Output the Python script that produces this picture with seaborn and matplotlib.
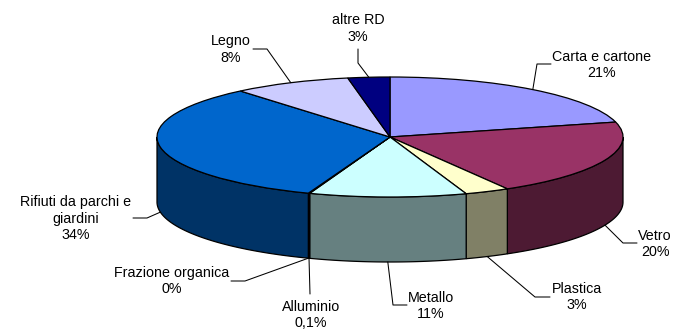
import numpy as np
import pandas as pd
import matplotlib
matplotlib.use("Agg")
import matplotlib.pyplot as plt
import seaborn as sns
from matplotlib.colors import to_rgb
from matplotlib.transforms import Affine2D

# slices, clockwise from the top
categories = ["Carta e cartone", "Vetro", "Plastica", "Metallo", "Alluminio",
              "Frazione organica", "Rifiuti da parchi e\ngiardini", "Legno", "altre RD"]
shown = ["21%", "20%", "3%", "11%", "0,1%", "0%", "34%", "8%", "3%"]
values = [21.0, 20.6, 3.1, 10.9, 0.1, 0.0, 33.2, 8.2, 2.9]
top_colors = ["#9999FF", "#993366", "#FFFFCC", "#CCFFFF", "#660066",
              "#FF8080", "#0066CC", "#CCCCFF", "#000080"]

# layout, in image pixels
W, H = 673, 330
CX, CY, RX, RY, DEPTH = 390, 137, 233, 60, 65
# per slice: elbow points of the leader, then label centre
leaders = [[(537, 64), (551, 64)], [(623, 243), (637, 243)], [(535, 297), (550, 297)],
           [(393, 305), (407, 305)], [(310, 294)], [(245, 281), (231, 281)],
           [(147, 218), (133, 218)], [(267, 49), (253, 49)], [(358, 63), (358, 49)]]
label_pos = [(602, 65), (655, 244), (577, 297), (431, 306), (311, 315),
             (172, 281), (76, 218.5), (231, 49.5), (358, 28.5)]

sns.set_theme(style="white")
plt.rcParams["font.family"] = ["Liberation Sans", "DejaVu Sans"]

df = pd.DataFrame({"cat": categories, "val": values, "color": top_colors, "shown": shown})
total = df["val"].sum()
ends = df["val"].cumsum() / total * 360
starts = ends - df["val"] / total * 360

fig = plt.figure(figsize=(W / 100, H / 100), dpi=100)
ax = fig.add_axes([0, 0, 1, 1])

# top face
wedges, _ = ax.pie(df["val"], colors=df["color"], startangle=90, counterclock=False, normalize=True,
                   wedgeprops={"edgecolor": "black", "linewidth": 0.9})
for w in wedges:
    w.set_zorder(3)
ax.set_aspect("auto")
ax.set_xlim(-CX / RX, (W - CX) / RX)
ax.set_ylim(-(H - CY) / RY, CY / RY)
drop = DEPTH / RY

# side wall, only the front half of the rim shows
for a0, a1, col in zip(starts, ends, df["color"]):
    lo, hi = max(a0, 90), min(a1, 270)
    if hi <= lo:
        continue
    t = np.radians(90 - np.linspace(lo, hi, 80))
    x, y = np.cos(t), np.sin(t)
    dark = tuple(c * 0.5 for c in to_rgb(col))
    ax.fill(np.r_[x, x[::-1]], np.r_[y, y[::-1] - drop], facecolor=dark,
            edgecolor="black", linewidth=0.9, zorder=2)

# leaders and labels in pixel coordinates
px = Affine2D().scale(1, -1).translate(0, H)
for i, (a0, a1) in enumerate(zip(starts, ends)):
    t = np.radians(90 - (a0 + a1) / 2)
    ax_x = CX + RX * np.cos(t)
    ax_y = CY - RY * np.sin(t)
    if np.sin(t) < 0:
        ax_y += DEPTH
    pts = [(ax_x, ax_y)] + leaders[i]
    ax.plot(*zip(*pts), color="black", lw=0.75, transform=px, zorder=4, clip_on=False)
    ax.text(*label_pos[i], df["cat"][i] + "\n" + df["shown"][i], transform=px, ha="center",
            va="center", fontsize=10.3, color="black", linespacing=1.25, zorder=5)

fig.savefig("out.png", dpi=100, facecolor="white")
